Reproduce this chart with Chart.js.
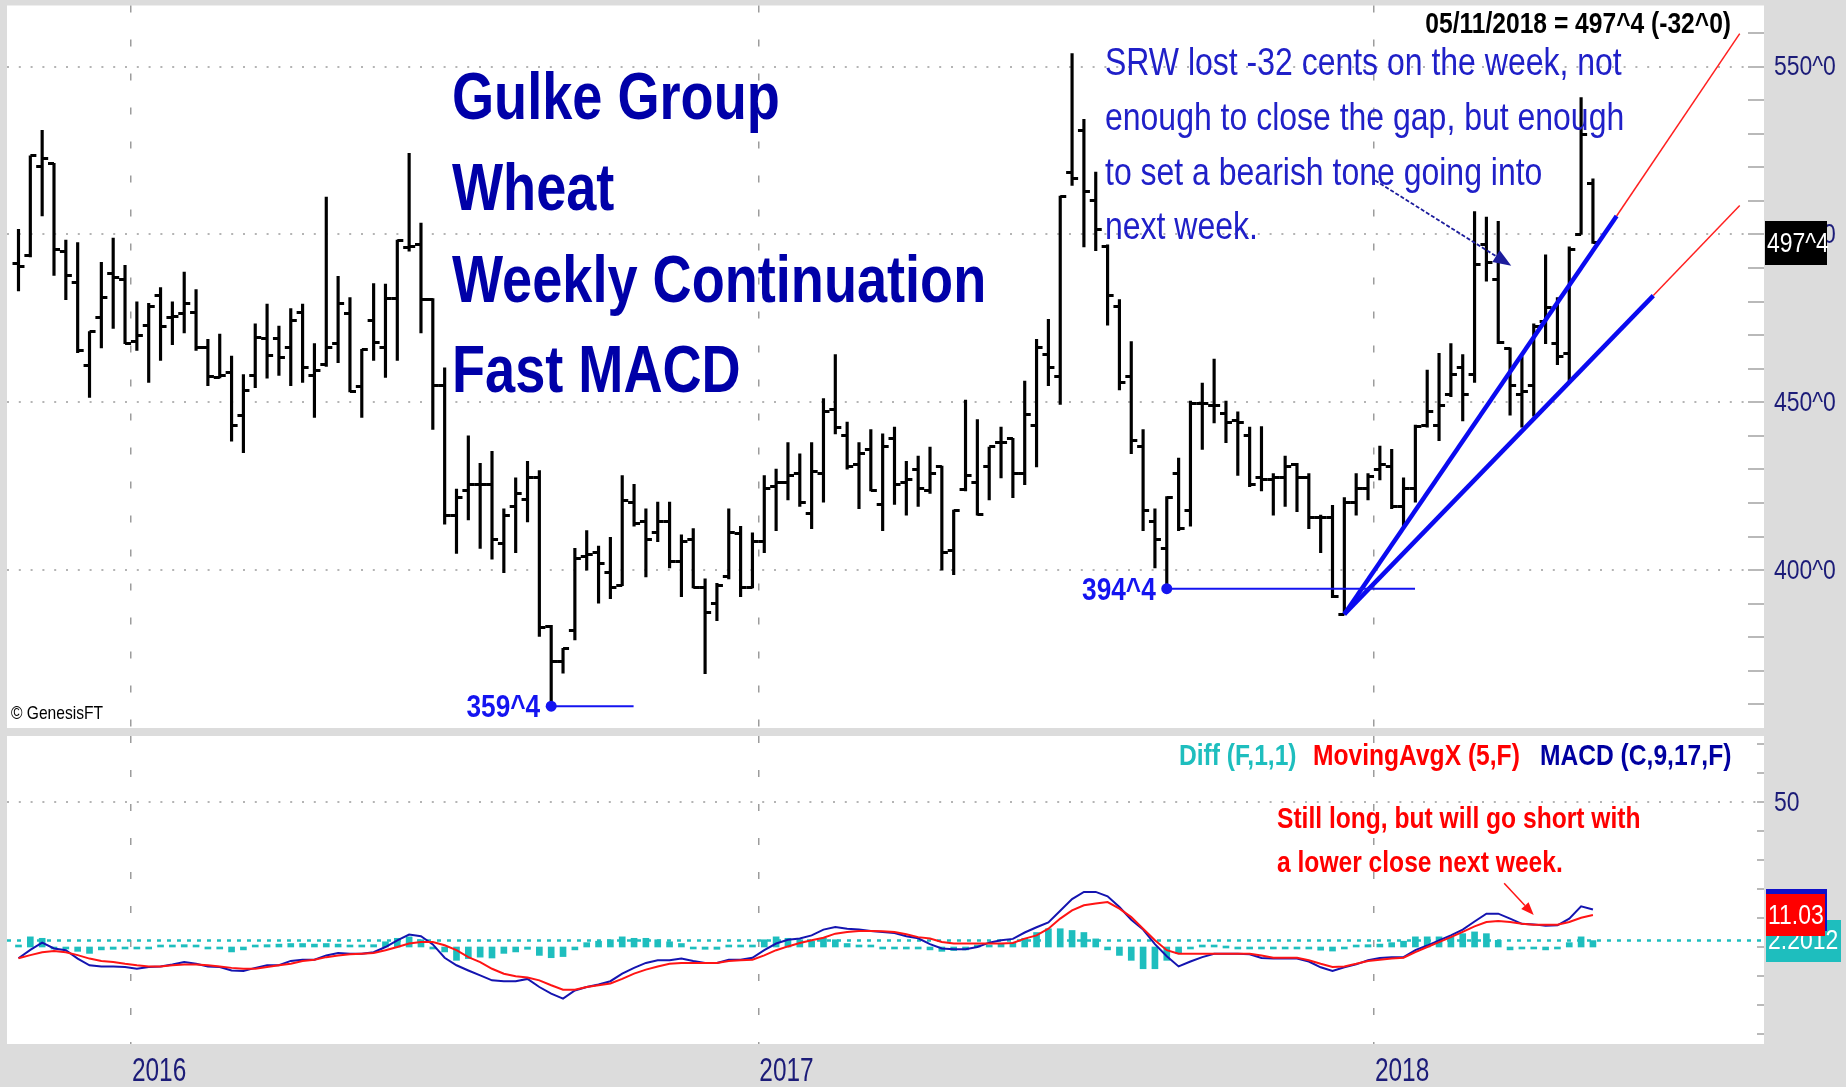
<!DOCTYPE html>
<html>
<head>
<meta charset="utf-8">
<title>Gulke Group Wheat Weekly Continuation Fast MACD</title>
<script src="https://cdn.jsdelivr.net/npm/chart.js@4.4.1/dist/chart.umd.min.js"></script>
<style>
  html, body { margin:0; padding:0; background:#dcdcdc; }
  body { width:1846px; height:1087px; position:relative; overflow:hidden; }
  canvas { position:absolute; left:0; display:block; }
  #priceCanvas { top:0; }
  #macdCanvas { top:736px; }
</style>
</head>
<body>
<canvas id="priceCanvas" width="1846" height="736"></canvas>
<canvas id="macdCanvas" width="1846" height="351"></canvas>
<script>
// ================= DATA =================
// weekly bars, first bar = week of 2015-10-23, last bar = 2018-05-11
const firstWeek = '2015-10-23';
const yearTickIndex = [9.5, 62.5, 114.5];
const yearLabels = ['2016', '2017', '2018'];
const priceTicks = [400, 450, 500, 550];
const macdTicks = [50];

const opens = [
  491.3,493.7,520.1,521.2,495.0,485.8,460.9,475.3,488.4,486.5,
  468.1,473.0,481.9,475.3,476.6,476.9,466.2,457.3,459.0,446.2,
  458.0,469.0,469.0,466.4,476.9,458.0,461.3,467.5,476.6,454.8,
  474.3,466.2,480.8,496.1,497.0,480.6,455.0,416.4,423.6,425.5,
  425.5,407.9,419.0,421.0,427.5,383.1,372.7,381.9,404.0,405.2,
  399.3,395.4,420.3,414.4,411.1,414.4,402.6,409.2,394.7,390.2,
  398.0,411.0,394.7,408.5,424.9,426.2,428.8,417.0,428.8,447.8,
  440.0,431.4,436.0,419.6,439.3,426.2,430.1,423.6,431.0,405.9,
  424.0,426.2,430.8,438.0,439.3,428.8,443.2,464.2,457.6,518.6,
  531.0,510.0,496.3,478.6,457.6,436.7,414.4,406.5,428.8,417.7,
  449.8,449.1,446.8,444.5,440.0,427.5,426.9,427.5,431.4,427.5,
  415.7,415.7,386.9,420.3,424.2,430.1,430.8,419.0,424.2,443.2,
  443.2,452.4,460.3,458.3,496.9,486.5,465.9,452.4,455.0,474.0,
  467.5,464.6,500.0,515.3
];
const highs = [
  501.5,523.4,531.0,521.2,498.3,497.6,471.1,491.7,498.9,490.8,
  479.9,479.5,484.2,479.9,488.8,483.6,468.8,470.3,463.8,458.3,
  473.4,479.3,472.7,477.9,479.3,467.5,511.1,487.5,481.2,465.8,
  485.4,485.2,498.3,524.2,503.4,480.9,460.3,424.2,440.0,431.8,
  435.4,418.3,427.5,432.4,429.7,383.6,376.7,406.5,411.8,407.2,
  409.8,428.2,425.6,418.3,420.3,420.3,410.5,412.4,397.4,396.1,
  418.3,413.1,411.1,428.2,430.1,438.0,434.7,438.0,451.1,464.2,
  444.1,438.0,441.9,440.6,442.6,432.4,434.0,436.7,431.0,417.9,
  450.7,444.9,436.7,442.6,439.3,456.3,468.8,474.7,511.4,553.9,
  534.3,518.6,496.9,480.6,468.1,441.9,418.3,421.9,433.4,450.4,
  455.7,462.9,450.4,447.2,442.6,442.8,428.8,434.0,431.8,428.8,
  416.4,419.3,421.6,428.8,428.8,437.0,436.0,427.5,443.2,459.6,
  464.6,467.5,464.2,506.8,505.2,503.9,466.2,463.6,473.4,493.9,
  481.2,496.3,540.8,516.6
];
const lows = [
  483.2,493.3,505.5,487.8,480.6,464.8,451.5,466.2,472.0,467.5,
  465.5,455.9,462.5,467.2,470.7,465.5,455.0,457.3,438.4,435.0,
  454.4,457.2,458.0,455.0,455.9,445.5,460.7,461.8,453.1,445.5,
  462.5,457.4,462.5,495.0,470.7,441.9,413.7,405.0,415.0,406.5,
  403.3,399.3,405.2,414.4,380.3,359.5,369.3,379.2,400.0,390.2,
  391.5,395.4,413.1,398.0,408.5,400.7,392.1,394.7,369.2,385.0,
  397.4,392.1,394.7,405.2,411.8,420.9,419.0,412.4,420.3,440.6,
  430.1,418.3,423.6,411.8,419.6,416.4,419.0,422.9,400.0,398.7,
  423.6,416.4,420.9,427.5,421.6,425.5,430.8,455.0,449.4,514.6,
  496.3,495.2,473.0,453.7,434.7,411.8,400.7,394.5,411.8,413.1,
  436.0,443.9,438.0,428.2,424.9,423.6,416.4,419.0,417.4,412.4,
  405.2,391.8,386.9,416.4,420.9,426.9,418.3,413.1,420.3,442.6,
  438.6,451.7,444.5,455.9,486.1,467.5,446.2,442.6,445.9,467.5,
  461.2,456.3,500.0,497.3
];
const closes = [
  490.4,523.4,522.5,495.6,487.8,465.5,471.1,481.2,487.1,467.5,
  469.8,478.6,472.7,475.6,479.5,466.2,457.6,458.0,443.2,453.4,
  469.4,463.9,463.5,474.3,460.3,459.6,466.2,479.5,453.1,465.8,
  467.7,480.8,498.3,496.3,480.6,455.0,416.4,421.6,425.6,425.5,
  409.2,416.4,422.9,427.5,383.0,372.7,376.7,403.5,404.6,402.0,
  394.7,420.9,414.0,409.2,414.4,402.6,408.5,394.7,387.5,395.4,
  411.1,394.7,408.5,424.2,426.2,428.2,420.3,429.5,447.2,442.6,
  430.8,434.7,423.6,436.7,425.5,426.9,424.2,428.8,405.2,417.7,
  428.2,416.6,436.7,438.0,428.8,446.5,466.2,460.3,511.4,516.6,
  512.7,501.5,481.9,455.9,438.6,417.7,409.2,421.6,412.4,449.8,
  449.8,449.1,444.1,443.9,425.5,427.1,427.5,430.8,427.5,415.7,
  415.7,392.1,420.3,424.2,427.8,431.4,419.0,424.2,442.8,447.2,
  449.1,458.3,452.4,491.1,491.7,467.7,455.0,453.1,472.7,478.2,
  463.8,495.6,529.7,497.5
];

// MACD (C,9,17,F)
const macd = [
  -3.9,-1.0,1.5,-0.5,-1.1,-4.0,-6.3,-6.7,-6.7,-6.9,
  -7.5,-6.9,-6.7,-6.0,-5.2,-5.8,-6.7,-6.9,-8.1,-8.3,
  -7.2,-6.3,-6.3,-4.8,-4.4,-4.4,-2.9,-2.1,-2.3,-2.3,
  -1.8,0.0,2.3,4.3,3.7,0.9,-3.7,-6.3,-8.1,-9.8,
  -11.5,-11.8,-11.8,-11.0,-13.8,-16.1,-17.8,-15.0,-13.8,-12.9,
  -11.8,-9.2,-7.2,-5.5,-4.6,-4.6,-4.0,-4.8,-5.5,-5.5,
  -4.4,-4.4,-3.7,-1.1,1.2,2.5,2.9,4.0,6.0,6.9,
  6.3,6.0,5.5,5.2,4.8,3.7,3.0,1.0,-0.5,-0.8,
  -0.8,0.0,1.5,2.3,2.8,5.0,6.8,8.5,12.5,16.5,
  19.0,19.0,17.5,13.8,9.4,6.0,1.0,-3.2,-6.7,-5.0,
  -3.5,-2.3,-2.3,-2.3,-2.5,-3.8,-4.0,-4.0,-4.0,-5.0,
  -7.0,-8.3,-7.0,-6.0,-4.6,-3.8,-3.5,-3.5,-1.1,0.5,
  2.3,4.0,6.0,8.8,11.5,11.5,9.8,8.0,7.8,7.3,
  7.5,9.8,14.0,12.9
];
// MovingAvgX (5,F)
const macdAvg = [
  -3.9,-2.8,-1.8,-1.4,-1.8,-2.8,-4.0,-4.8,-5.2,-5.8,
  -6.3,-6.7,-6.7,-6.3,-6.0,-6.0,-6.3,-6.7,-7.2,-7.5,
  -7.5,-6.9,-6.3,-5.8,-4.8,-4.4,-3.5,-2.9,-2.5,-2.3,
  -2.1,-1.1,0.0,1.2,1.7,1.7,0.6,-1.1,-3.5,-5.2,
  -7.5,-9.2,-10.1,-10.5,-11.5,-13.2,-14.7,-14.7,-13.8,-13.2,
  -12.6,-11.0,-9.2,-7.8,-6.7,-5.8,-5.5,-5.5,-5.5,-5.5,
  -4.8,-4.6,-4.4,-2.9,-1.1,0.2,1.4,2.3,3.2,4.6,
  5.2,5.5,5.5,5.4,5.2,4.4,3.4,2.9,1.7,1.2,
  1.2,1.2,1.2,1.2,1.4,2.9,4.0,6.3,9.8,12.6,
  14.4,15.0,15.5,13.2,10.3,6.3,2.3,-1.1,-2.3,-2.3,
  -2.3,-2.3,-2.3,-2.3,-2.3,-2.9,-3.7,-3.7,-3.7,-4.6,
  -5.8,-6.9,-6.7,-5.8,-4.8,-4.4,-4.0,-3.7,-1.8,0.0,
  1.7,3.4,5.2,7.1,8.6,9.0,8.6,8.0,7.7,7.7,
  7.7,8.6,10.1,11.03
];
// Diff (F,1,1)
const diff = [
  0.3,3.5,3.0,-0.5,-0.5,-1.5,-2.2,-1.0,-0.8,-0.6,
  -0.6,-0.3,0.3,0.5,0.8,0.3,-0.5,-0.6,-1.7,-1.0,
  0.6,0.8,1.0,1.2,1.2,1.0,1.2,1.0,0.5,0.5,
  0.8,1.8,3.0,3.5,2.5,-0.5,-1.7,-4.6,-4.0,-3.5,
  -3.8,-2.2,-1.7,-0.8,-2.9,-3.7,-3.3,-1.0,1.5,2.0,
  2.5,3.5,3.0,3.0,2.5,1.8,1.2,-0.5,-0.8,-0.8,
  0.3,0.3,0.6,2.5,3.5,3.0,2.5,2.0,3.0,2.5,
  1.2,0.5,0.3,-0.3,-0.4,-0.7,-0.4,-1.0,-1.5,-1.2,
  -1.0,0.5,0.6,1.0,1.5,3.0,5.0,6.3,6.3,5.7,
  5.0,2.8,-1.0,-2.9,-4.6,-7.5,-7.5,-4.6,-2.3,-0.5,
  0.4,0.2,0.0,-0.3,-0.4,-0.6,-0.5,-0.4,-0.4,-0.6,
  -1.1,-1.4,-0.5,0.3,0.8,1.0,1.5,2.0,3.5,3.5,
  3.5,3.5,4.6,5.2,4.6,2.3,-1.0,-0.5,-0.5,-1.0,
  -0.3,1.5,3.5,2.2012
];
const lastClose = 497.5;
const lastAvg = 11.03;
const lastDiff = 2.2012;

// drawn trend lines (bar index, price)
const trendSteep = [{x:112, y:386.9}, {x:135, y:505.5}];
const trendSteepExt = [{x:135, y:505.5}, {x:145.4, y:559.8}];
const trendShallow = [{x:112, y:386.9}, {x:138.1, y:481.8}];
const trendShallowExt = [{x:138.1, y:481.8}, {x:145.4, y:508.6}];
// marked lows
const lowMarks = [
  {i:45, price:359.5, label:'359^4', lineTo:51.96},
  {i:97, price:394.5, label:'394^4', lineTo:117.97}
];

// ================= FONTS =================
function hasFont(name) {
  const c = document.createElement('canvas').getContext('2d');
  const s = 'abcdefghijklmnopqrstuvwxyzABCDEFGHIJ0123456789^';
  for (const base of ['monospace', 'serif']) {
    c.font = '48px ' + base; const w0 = c.measureText(s).width;
    c.font = '48px "' + name + '", ' + base; const w1 = c.measureText(s).width;
    if (Math.abs(w0 - w1) > 0.5) return true;
  }
  return false;
}
const NARROW = hasFont('Liberation Sans Narrow');
const FAM = NARROW ? '"Liberation Sans Narrow", "Liberation Sans", Arial, sans-serif'
                   : '"Liberation Sans", Arial, sans-serif';
const SX = NARROW ? 1 : 0.82;

// ================= HELPERS =================
const XMIN = -0.97, XMAX = 147.45;
const AXIS_C = '#1c1c78';

function drawLabel(ctx, t) {
  const sx = NARROW ? (t.sx ? t.sx / 0.82 : 1) : (t.sx || SX);
  ctx.save();
  ctx.font = (t.bold ? 'bold ' : '') + t.size + 'px ' + FAM;
  ctx.fillStyle = t.color;
  ctx.textBaseline = t.baseline || 'alphabetic';
  ctx.textAlign = t.align || 'left';
  ctx.translate(t.x, t.y);
  ctx.scale(sx, 1);
  ctx.fillText(t.text, 0, 0);
  ctx.restore();
}
function drawArrow(ctx, x1, y1, x2, y2, a) {
  const ang = Math.atan2(y2 - y1, x2 - x1);
  const bx = x2 - a.head * Math.cos(ang), by = y2 - a.head * Math.sin(ang);
  ctx.save();
  ctx.strokeStyle = a.color; ctx.fillStyle = a.color; ctx.lineWidth = a.width;
  ctx.setLineDash(a.dash || []);
  ctx.beginPath(); ctx.moveTo(x1, y1); ctx.lineTo(bx, by); ctx.stroke();
  ctx.setLineDash([]);
  ctx.beginPath(); ctx.moveTo(x2, y2);
  ctx.lineTo(bx + a.half * Math.sin(ang), by - a.half * Math.cos(ang));
  ctx.lineTo(bx - a.half * Math.sin(ang), by + a.half * Math.cos(ang));
  ctx.closePath(); ctx.fill();
  ctx.restore();
}
function makePanelPlugin(cfg) {
  return {
    id: 'panel_' + cfg.name,
    beforeDraw(chart) {
      const {ctx, chartArea: ca} = chart;
      ctx.save(); ctx.fillStyle = '#ffffff';
      ctx.fillRect(ca.left, ca.top, ca.right - ca.left, ca.bottom - ca.top);
      ctx.restore();
    },
    afterDatasetsDraw(chart) {
      const {ctx, chartArea: ca} = chart;
      const xs = chart.scales.x, ys = chart.scales.y;
      // minor ticks along the right edge
      ctx.save(); ctx.strokeStyle = '#b9b9b9'; ctx.lineWidth = 2;
      for (let v = cfg.minor.from; v <= cfg.minor.to; v += cfg.minor.step) {
        const y = Math.round(ys.getPixelForValue(v));
        ctx.beginPath(); ctx.moveTo(ca.right - cfg.minor.len, y); ctx.lineTo(ca.right, y); ctx.stroke();
      }
      ctx.restore();
      // value-axis labels from the scale's own ticks
      ys.ticks.forEach(tk => drawLabel(ctx, {text: cfg.yFormat(tk.value), x: ca.right + 10,
        y: ys.getPixelForValue(tk.value) + 1, size: 28, color: AXIS_C, baseline: 'middle'}));
      // year labels from the x scale's own ticks
      if (cfg.xLabels) xs.ticks.forEach((tk, i) => drawLabel(ctx, {text: yearLabels[i], x: xs.getPixelForValue(tk.value) + 1,
        y: ca.bottom + 37, size: 33, sx: 0.74, color: AXIS_C}));
      (cfg.marks || []).forEach(m => drawLabel(ctx, {text: m.text, size: m.size, bold: true, color: m.color,
        align: 'right', x: xs.getPixelForValue(m.x) - 11, y: ys.getPixelForValue(m.y) + 11}));
      (cfg.arrows || []).forEach(a => drawArrow(ctx, xs.getPixelForValue(a.x1), ys.getPixelForValue(a.y1),
        xs.getPixelForValue(a.x2), ys.getPixelForValue(a.y2), a));
      (cfg.texts || []).forEach(t => drawLabel(ctx, t));
      (cfg.boxes || []).forEach(b => {
        const cy = ys.getPixelForValue(b.value);
        ctx.save(); ctx.fillStyle = b.bg; ctx.fillRect(b.x, Math.round(cy - b.h / 2), b.w, b.h); ctx.restore();
        if (b.text) drawLabel(ctx, {text: b.text, x: b.x + 2, y: cy + 1, size: 28, color: '#ffffff', baseline: 'middle'});
      });
    }
  };
}
function tickImage(side) {
  const c = document.createElement('canvas');
  c.width = 14; c.height = 3;
  const g = c.getContext('2d');
  g.fillStyle = '#000000';
  if (side === 'left') g.fillRect(1, 0, 6, 3); else g.fillRect(7, 0, 6, 3);
  return c;
}

// ================= PRICE PANEL =================
const ohlcRange = highs.map((h, i) => ({x: i, y: [lows[i], h]}));
const openPts = opens.map((v, i) => ({x: i, y: v}));
const closePts = closes.map((v, i) => ({x: i, y: v}));

const priceDatasets = [
  {type: 'bar', label: 'High-Low', data: ohlcRange, backgroundColor: '#000000', barThickness: 2.5, order: 10},
  {type: 'line', label: 'Open', data: openPts, showLine: false, pointStyle: tickImage('left'), pointRadius: 3, order: 9},
  {type: 'line', label: 'Close', data: closePts, showLine: false, pointStyle: tickImage('right'), pointRadius: 3, order: 9},
  {type: 'line', label: 'Trend steep', data: trendSteep, borderColor: '#0a0af0', borderWidth: 4.5, pointRadius: 0, order: 2},
  {type: 'line', label: 'Trend steep ext', data: trendSteepExt, borderColor: '#ff2020', borderWidth: 1.5, pointRadius: 0, order: 2},
  {type: 'line', label: 'Trend shallow', data: trendShallow, borderColor: '#0a0af0', borderWidth: 4.5, pointRadius: 0, order: 2},
  {type: 'line', label: 'Trend shallow ext', data: trendShallowExt, borderColor: '#ff2020', borderWidth: 1.5, pointRadius: 0, order: 2}
];
lowMarks.forEach(m => priceDatasets.push({
  type: 'line', label: m.label, data: [{x: m.i, y: m.price}, {x: m.lineTo, y: m.price}],
  borderColor: '#1414f0', borderWidth: 2, pointRadius: [5.5, 0], pointBackgroundColor: '#1414f0',
  pointBorderWidth: 0, order: 1
}));

const TITLE_C = '#0000a8', NOTE_C = '#2020c8';
const pricePanel = makePanelPlugin({
  name: 'price',
  yFormat: v => v + '^0',
  minor: {from: 360, to: 560, step: 10, len: 16},
  marks: lowMarks.map(m => ({text: m.label, x: m.i, y: m.price, size: 32, color: '#1414f0'})),
  arrows: [{x1: 114.6, y1: 516.1, x2: 126.1, y2: 490.7, color: '#1c1c9c', width: 1.8, dash: [4, 2], head: 18, half: 7}],
  texts: [
    {text: 'Gulke Group', x: 452, y: 119, size: 66, bold: true, color: TITLE_C},
    {text: 'Wheat', x: 452, y: 209.5, size: 66, bold: true, color: TITLE_C},
    {text: 'Weekly Continuation', x: 452, y: 301.5, size: 66, bold: true, color: TITLE_C},
    {text: 'Fast MACD', x: 452, y: 392, size: 66, bold: true, color: TITLE_C},
    {text: 'SRW lost -32 cents on the week, not', x: 1105, y: 75, size: 39, color: NOTE_C},
    {text: 'enough to close the gap, but enough', x: 1105, y: 130, size: 39, color: NOTE_C},
    {text: 'to set a bearish tone going into', x: 1105, y: 185, size: 39, color: NOTE_C},
    {text: 'next week.', x: 1105, y: 239, size: 39, color: NOTE_C},
    {text: '05/11/2018 = 497^4 (-32^0)', x: 1731, y: 33, size: 30, bold: true, color: '#000000', align: 'right'},
    {text: '\u00A9 GenesisFT', x: 11, y: 719, size: 19, color: '#000000'}
  ],
  boxes: [{value: lastClose, text: '497^4', bg: '#000000', x: 1765, w: 62, h: 44}]
});

new Chart(document.getElementById('priceCanvas'), {
  type: 'line',
  data: {datasets: priceDatasets},
  options: {
    responsive: false, animation: false, events: [],
    layout: {padding: {left: 7, top: 5, right: 0, bottom: 8}},
    plugins: {legend: {display: false}, tooltip: {enabled: false}},
    scales: {
      x: {
        type: 'linear', min: XMIN, max: XMAX, offset: false,
        afterBuildTicks: s => { s.ticks = yearTickIndex.map(v => ({value: v})); },
        grid: {offset: false, color: '#9c9c9c', lineWidth: 1.5, drawTicks: false},
        border: {display: false, dash: [7, 27]},
        ticks: {display: false},
        afterFit: s => { s.height = 0; s.paddingLeft = 0; s.paddingRight = 0; }
      },
      y: {
        type: 'linear', position: 'right', min: 353.0, max: 568.2,
        afterBuildTicks: s => { s.ticks = priceTicks.map(v => ({value: v})); },
        grid: {color: '#b4b4b4', lineWidth: 2, drawTicks: false},
        border: {display: false, dash: [2, 9.8]},
        ticks: {display: false},
        afterFit: s => { s.width = 82; s.paddingTop = 0; s.paddingBottom = 0; }
      }
    }
  },
  plugins: [pricePanel]
});

// ================= MACD PANEL =================
const diffPts = diff.map((v, i) => ({x: i, y: v}));
const macdPts = macd.map((v, i) => ({x: i, y: v}));
const avgPts = macdAvg.map((v, i) => ({x: i, y: v}));
const CYAN = '#1ebebe', RED = '#ff1414', NAVY = '#1414b0';

const macdPanel = makePanelPlugin({
  name: 'macd',
  yFormat: v => String(v),
  xLabels: true,
  minor: {from: -30, to: 70, step: 10, len: 7},
  arrows: [{x1: 125.5, y1: 22.0, x2: 128.0, y2: 11.0, color: RED, width: 1.5, head: 13, half: 5}],
  texts: [
    {text: 'Diff (F,1,1)', x: 1179, y: 29, size: 30, bold: true, color: CYAN},
    {text: 'MovingAvgX (5,F)', x: 1313, y: 29, size: 30, bold: true, color: '#ff0000'},
    {text: 'MACD (C,9,17,F)', x: 1540, y: 29, size: 30, bold: true, color: '#0000a0'},
    {text: 'Still long, but will go short with', x: 1277, y: 92, size: 30, bold: true, color: '#ff0000'},
    {text: 'a lower close next week.', x: 1277, y: 136, size: 30, bold: true, color: '#ff0000'}
  ],
  boxes: [
    {value: lastDiff, text: '2.2012', bg: CYAN, x: 1766, w: 75, h: 42},
    {value: macd[macd.length - 1], text: '', bg: '#1010c8', x: 1766, w: 61, h: 42},
    {value: lastAvg, text: '11.03', bg: '#ff0000', x: 1766, w: 59, h: 42}
  ]
});

new Chart(document.getElementById('macdCanvas'), {
  type: 'line',
  data: {datasets: [
    {type: 'bar', label: 'Diff (F,1,1)', data: diffPts, backgroundColor: CYAN, barThickness: 6, minBarLength: 2, order: 10},
    {type: 'line', label: 'Diff last', data: [{x: XMIN, y: lastDiff}, {x: XMAX, y: lastDiff}], borderColor: CYAN,
     borderWidth: 2.5, borderDash: [4, 6], pointRadius: 0, order: 8},
    {type: 'line', label: 'MACD (C,9,17,F)', data: macdPts, borderColor: NAVY, borderWidth: 2, pointRadius: 0, order: 4},
    {type: 'line', label: 'MovingAvgX (5,F)', data: avgPts, borderColor: RED, borderWidth: 2, pointRadius: 0, order: 3}
  ]},
  options: {
    responsive: false, animation: false, events: [],
    layout: {padding: {left: 7, top: 0, right: 0, bottom: 0}},
    plugins: {legend: {display: false}, tooltip: {enabled: false}},
    scales: {
      x: {
        type: 'linear', position: 'bottom', min: XMIN, max: XMAX, offset: false,
        afterBuildTicks: s => { s.ticks = yearTickIndex.map(v => ({value: v})); },
        grid: {offset: false, color: '#9c9c9c', lineWidth: 1.5, drawTicks: false},
        border: {display: false, dash: [7, 27]},
        ticks: {display: false},
        afterFit: s => { s.height = 43; s.paddingLeft = 0; s.paddingRight = 0; }
      },
      y: {
        type: 'linear', position: 'right', min: -33.45, max: 72.76,
        afterBuildTicks: s => { s.ticks = macdTicks.map(v => ({value: v})); },
        grid: {color: '#b4b4b4', lineWidth: 2, drawTicks: false},
        border: {display: false, dash: [2, 9.8]},
        ticks: {display: false},
        afterFit: s => { s.width = 82; s.paddingTop = 0; s.paddingBottom = 0; }
      }
    }
  },
  plugins: [macdPanel]
});
</script>
</body>
</html>
